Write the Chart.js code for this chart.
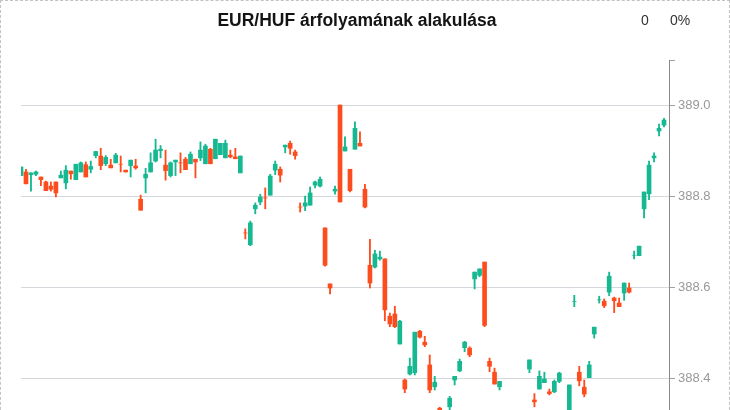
<!DOCTYPE html>
<html lang="hu">
<head>
<meta charset="utf-8">
<title>EUR/HUF árfolyamának alakulása</title>
<script src="https://cdn.jsdelivr.net/npm/chart.js@4.4.1/dist/chart.umd.min.js"></script>
<style>
  html, body { margin: 0; padding: 0; background: #fff; }
  #wrap { position: relative; width: 730px; height: 410px; overflow: hidden;
          font-family: "Liberation Sans", Arial, Helvetica, sans-serif; }
  #chart { position: absolute; left: 0; top: 0; }
  #frame { position: absolute; left: 0; top: 0; width: 730px; height: 440px;
           box-sizing: border-box; border: 1px dashed #c2c2c2; pointer-events: none; }
  #title { position: absolute; left: 0; top: 10px; width: 714px; text-align: center;
           font-weight: bold; font-size: 17.5px; color: #141414; }
  .stat { position: absolute; top: 12px; font-size: 14px; color: #333; }
</style>
</head>
<body>
<div id="wrap">
  <canvas id="chart" width="730" height="410"></canvas>
  <div id="title">EUR/HUF árfolyamának alakulása</div>
  <div class="stat" id="chg" style="left:641px">0</div>
  <div class="stat" id="pct" style="left:670px">0%</div>
  <div id="frame"></div>
</div>
<script>
// Intraday EUR/HUF candles (open / high / low / close)
const open = [
  388.845, 388.853, 388.847, 388.848, 388.842, 388.831, 388.822, 388.831, 388.840, 388.829,
  388.855, 388.836, 388.853, 388.869, 388.859, 388.889, 388.888, 388.871, 388.868, 388.873,
  388.870, 388.857, 388.867, 388.866, 388.793, 388.840, 388.853, 388.877, 388.900, 388.868,
  388.845, 388.875, 388.873, 388.881, 388.871, 388.881, 388.884, 388.871, 388.903, 388.882,
  388.891, 388.884, 388.890, 388.886, 388.851, 388.719, 388.693, 388.772, 388.787, 388.796,
  388.802, 388.857, 388.859, 388.908, 388.916, 388.897, 388.776, 388.778, 388.780, 388.824,
  388.822, 388.730, 388.607, 388.811, 389.000, 388.899, 388.859, 388.903, 388.916, 388.815,
  388.648, 388.644, 388.662, 388.662, 388.536, 388.541, 388.475, 388.396, 388.409, 388.412,
  388.503, 388.479, 388.429, 388.381, 388.334, 388.305, 388.337, 388.396, 388.416, 388.467,
  388.466, 388.618, 388.626, 388.655, 388.437, 388.413, 388.381, 388.318, 388.300, 388.310,
  388.298, 388.312, 388.420, 388.352, 388.376, 388.390, 388.370, 388.370, 388.393, 388.320,
  388.300, 388.568, 388.413, 388.380, 388.401, 388.497, 388.572, 388.569, 388.589, 388.576,
  388.565, 388.587, 388.598, 388.670, 388.669, 388.772, 388.805, 388.884, 388.943, 388.956
];
const high = [
  388.864, 388.859, 388.851, 388.855, 388.842, 388.833, 388.831, 388.831, 388.855, 388.867,
  388.855, 388.870, 388.875, 388.875, 388.877, 388.898, 388.905, 388.889, 388.881, 388.894,
  388.888, 388.857, 388.879, 388.881, 388.802, 388.861, 388.895, 388.925, 388.911, 388.901,
  388.875, 388.879, 388.895, 388.885, 388.897, 388.881, 388.919, 388.914, 388.905, 388.925,
  388.916, 388.923, 388.901, 388.905, 388.888, 388.728, 388.745, 388.785, 388.804, 388.818,
  388.848, 388.877, 388.864, 388.912, 388.921, 388.901, 388.785, 388.800, 388.820, 388.833,
  388.842, 388.730, 388.607, 388.822, 389.000, 388.930, 388.859, 388.963, 388.941, 388.826,
  388.705, 388.681, 388.679, 388.662, 388.543, 388.558, 388.527, 388.398, 388.444, 388.501,
  388.505, 388.492, 388.451, 388.404, 388.336, 388.322, 388.360, 388.404, 388.442, 388.481,
  388.469, 388.633, 388.640, 388.655, 388.444, 388.422, 388.393, 388.325, 388.315, 388.322,
  388.318, 388.326, 388.440, 388.366, 388.416, 388.413, 388.376, 388.396, 388.413, 388.326,
  388.385, 388.582, 388.426, 388.396, 388.437, 388.512, 388.580, 388.574, 388.633, 388.578,
  388.576, 388.609, 388.609, 388.679, 388.690, 388.809, 388.877, 388.895, 388.958, 388.971
];
const low = [
  388.845, 388.827, 388.811, 388.845, 388.823, 388.812, 388.811, 388.798, 388.840, 388.816,
  388.837, 388.836, 388.853, 388.842, 388.851, 388.884, 388.858, 388.867, 388.862, 388.873,
  388.853, 388.853, 388.842, 388.859, 388.769, 388.807, 388.853, 388.875, 388.884, 388.835,
  388.842, 388.845, 388.851, 388.858, 388.871, 388.840, 388.878, 388.871, 388.871, 388.882,
  388.891, 388.884, 388.884, 388.882, 388.851, 388.706, 388.691, 388.761, 388.781, 388.772,
  388.802, 388.847, 388.831, 388.895, 388.892, 388.881, 388.765, 388.768, 388.780, 388.818,
  388.820, 388.646, 388.585, 388.804, 388.787, 388.899, 388.809, 388.903, 388.910, 388.774,
  388.598, 388.642, 388.659, 388.526, 388.513, 388.511, 388.475, 388.368, 388.407, 388.407,
  388.488, 388.469, 388.368, 388.374, 388.300, 388.290, 388.325, 388.385, 388.414, 388.458,
  388.447, 388.596, 388.623, 388.513, 388.414, 388.387, 388.374, 388.290, 388.280, 388.295,
  388.285, 388.300, 388.412, 388.337, 388.376, 388.390, 388.363, 388.368, 388.390, 388.295,
  388.295, 388.557, 388.383, 388.359, 388.401, 388.488, 388.565, 388.555, 388.581, 388.544,
  388.557, 388.571, 388.587, 388.662, 388.669, 388.752, 388.792, 388.875, 388.932, 388.952
];
const close = [
  388.864, 388.827, 388.851, 388.853, 388.836, 388.812, 388.815, 388.807, 388.846, 388.857,
  388.849, 388.870, 388.873, 388.842, 388.865, 388.898, 388.867, 388.885, 388.862, 388.890,
  388.870, 388.853, 388.879, 388.862, 388.769, 388.848, 388.873, 388.901, 388.903, 388.856,
  388.873, 388.879, 388.873, 388.858, 388.892, 388.875, 388.901, 388.910, 388.871, 388.925,
  388.916, 388.916, 388.886, 388.882, 388.888, 388.719, 388.741, 388.780, 388.798, 388.796,
  388.844, 388.870, 388.846, 388.912, 388.905, 388.889, 388.776, 388.785, 388.807, 388.831,
  388.837, 388.648, 388.598, 388.815, 388.787, 388.908, 388.812, 388.949, 388.910, 388.776,
  388.609, 388.673, 388.666, 388.550, 388.519, 388.513, 388.525, 388.376, 388.426, 388.501,
  388.490, 388.473, 388.374, 388.391, 388.305, 388.318, 388.356, 388.404, 388.437, 388.479,
  388.451, 388.633, 388.640, 388.516, 388.426, 388.387, 388.393, 388.300, 388.310, 388.298,
  388.312, 388.320, 388.440, 388.348, 388.404, 388.398, 388.366, 388.393, 388.411, 388.305,
  388.385, 388.568, 388.394, 388.365, 388.429, 388.512, 388.572, 388.559, 388.624, 388.570,
  388.557, 388.609, 388.589, 388.670, 388.690, 388.809, 388.868, 388.888, 388.949, 388.967
];

// Price axis
const yTicks = [388.4, 388.6, 388.8, 389.0];
const yMin = 388.33;
const yMax = 389.099;

const UP = '#15b891';
const DOWN = '#fd4d1e';

// a candle is "up" when it closes above its open; flat candles follow the previous close
const isUp = open.map((o, i) =>
  close[i] > o || (close[i] === o && (i === 0 || close[i] >= close[i - 1])));
const colors = isUp.map(u => u ? UP : DOWN);

const bodies = open.map((o, i) => ({ x: i, y: [Math.min(o, close[i]), Math.max(o, close[i])] }));
const wicks = open.map((o, i) => ({ x: i, y: [low[i], high[i]] }));

new Chart(document.getElementById('chart'), {
  type: 'bar',
  data: {
    datasets: [
      { label: 'body', data: bodies, backgroundColor: colors, barThickness: 4,
        grouped: false, order: 0, borderWidth: 0 },
      { label: 'wick', data: wicks, backgroundColor: colors, barThickness: 1.2,
        grouped: false, order: 1, borderWidth: 0 }
    ]
  },
  options: {
    responsive: false,
    animation: false,
    events: [],
    layout: { padding: { left: 21, top: 60, right: 0, bottom: 0 } },
    plugins: { legend: { display: false }, tooltip: { enabled: false }, title: { display: false } },
    scales: {
      x: {
        type: 'linear', display: false, offset: false,
        min: 0, max: open.length
      },
      y: {
        position: 'right',
        min: yMin, max: yMax,
        beginAtZero: false,
        afterBuildTicks: s => { s.ticks = yTicks.concat([yMax]).map(v => ({ value: v })); },
        afterFit: s => { s.width = 61; s.paddingTop = 0; s.paddingBottom = 0; },
        border: { display: true, color: '#8a8a8a', width: 1 },
        grid: {
          color: c => (c.tick && c.tick.value > 389.05) ? 'rgba(0,0,0,0)' : '#d5d8dc',
          tickColor: '#a0a0a0',
          tickLength: 6,
          lineWidth: 1
        },
        ticks: {
          padding: 3,
          color: '#999',
          font: { family: '"Liberation Sans", Arial, sans-serif', size: 13 },
          callback: v => yTicks.includes(v) ? v.toFixed(1) : ''
        }
      }
    }
  }
});
</script>
</body>
</html>
